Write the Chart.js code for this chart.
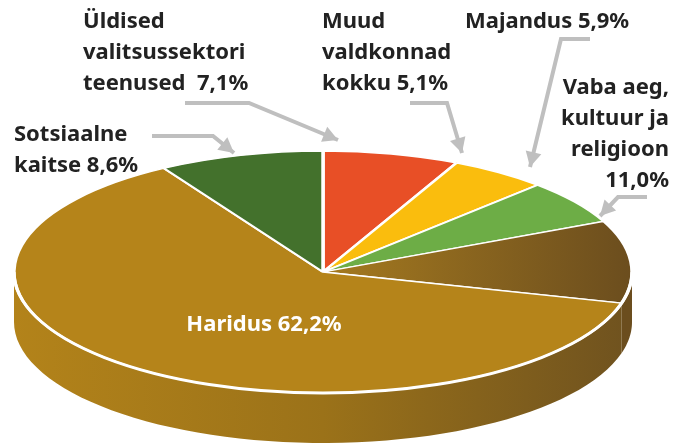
<!DOCTYPE html>
<html lang="et">
<head>
<meta charset="UTF-8">
<title>Kulud valdkonniti</title>
<script src="https://cdn.jsdelivr.net/npm/chart.js"></script>
<style>
  html, body { margin: 0; padding: 0; background: #fff; }
</style>
</head>
<body>
<canvas id="pie" width="673" height="446"></canvas>
<script>
  // slices, clockwise from 12 o'clock
  const categories = [
    'Üldised\nvalitsussektori\nteenused ',
    'Muud\nvaldkonnad\nkokku',
    'Majandus',
    'Vaba aeg,\nkultuur ja\nreligioon\n',
    'Haridus',
    'Sotsiaalne\nkaitse'
  ];
  const shares = [7.1, 5.1, 5.9, 11.0, 62.2, 8.6];
  const colors = ['#E84F26', '#FABD0D', '#6DAD46', null, '#B5841A', '#43712C'];

  // projected ellipse of the top face
  const CX = 323, CY = 272, RX = 309, RY = 121, DEPTH = 50;

  // label spots + leader arrows
  const labelPos = [
    { x: 83,  y: 22,  align: 'left',  arrow: [[185, 103], [249, 103], [338, 140]] },
    { x: 322, y: 22,  align: 'left',  arrow: [[410, 103], [447, 103], [462, 153]] },
    { x: 465, y: 22,  align: 'left',  arrow: [[590, 39], [561, 39], [530, 167]] },
    { x: 669, y: 88,  align: 'right', arrow: [[647, 197], [618, 197], [600, 216]] },
    { x: 264, y: 325, align: 'center', color: '#fff' },
    { x: 14,  y: 135, align: 'left',  arrow: [[152, 136], [213, 136], [234, 153]] }
  ];

  const pct = v => v.toFixed(1).replace('.', ',') + '%';

  function sideFill(ctx, i) {
    if (i === 3) return '#6B4D1E';
    const g = ctx.createLinearGradient(14, 0, 632, 0);
    g.addColorStop(0, '#B3831A');
    g.addColorStop(0.5, '#9B7219');
    g.addColorStop(1, '#6F521F');
    return g;
  }

  function sliceColor(c) {
    if (c.dataIndex !== 3) return colors[c.dataIndex];
    const area = c.chart.chartArea;
    if (!area) return '#8A6520';
    const x = (area.left + area.right) / 2;
    const r = Math.min(area.right - area.left, area.bottom - area.top) / 2;
    const g = c.chart.ctx.createLinearGradient(x, 0, x + r, 0);
    g.addColorStop(0, '#A57A1F');
    g.addColorStop(1, '#6B4D1E');
    return g;
  }

  const tilt = {
    id: 'tilt',
    beforeDatasetsDraw(chart) {
      const ctx = chart.ctx;
      const arcs = chart.getDatasetMeta(0).data;
      arcs.forEach((arc, i) => {
        const s = Math.max(arc.startAngle, 0), e = Math.min(arc.endAngle, Math.PI);
        if (e <= s) return;
        const n = 60;
        ctx.beginPath();
        for (let k = 0; k <= n; k++) {
          const t = s + (e - s) * k / n;
          ctx.lineTo(CX + RX * Math.cos(t), CY + RY * Math.sin(t));
        }
        for (let k = n; k >= 0; k--) {
          const t = s + (e - s) * k / n;
          ctx.lineTo(CX + RX * Math.cos(t), CY + RY * Math.sin(t) + DEPTH);
        }
        ctx.closePath();
        ctx.fillStyle = sideFill(ctx, i);
        ctx.fill();
      });
      const a = arcs[0];
      ctx.save();
      ctx.translate(CX, CY);
      ctx.scale(RX / a.outerRadius, RY / a.outerRadius);
      ctx.translate(-a.x, -a.y);
    },
    afterDatasetsDraw(chart) {
      const ctx = chart.ctx;
      ctx.restore();
      // white rim between top and side
      ctx.save();
      ctx.beginPath();
      ctx.ellipse(CX, CY, RX, RY, 0, 0, Math.PI);
      ctx.strokeStyle = '#fff';
      ctx.lineWidth = 3;
      ctx.stroke();
      ctx.restore();
    },
    afterDraw(chart) {
      const ctx = chart.ctx;
      ctx.save();
      ctx.textBaseline = 'middle';
      categories.forEach((cat, i) => {
        const p = labelPos[i];
        if (p.arrow) {
          ctx.strokeStyle = '#BFBFBF';
          ctx.fillStyle = '#BFBFBF';
          ctx.lineWidth = 4;
          ctx.beginPath();
          p.arrow.forEach(([x, y], k) => k ? ctx.lineTo(x, y) : ctx.moveTo(x, y));
          const [x1, y1] = p.arrow[p.arrow.length - 2];
          const [x2, y2] = p.arrow[p.arrow.length - 1];
          const ang = Math.atan2(y2 - y1, x2 - x1);
          const bx = x2 - 15 * Math.cos(ang), by = y2 - 15 * Math.sin(ang);
          ctx.lineTo(bx, by);
          ctx.stroke();
          ctx.beginPath();
          ctx.moveTo(x2, y2);
          ctx.lineTo(bx + 8 * Math.sin(ang), by - 8 * Math.cos(ang));
          ctx.lineTo(bx - 8 * Math.sin(ang), by + 8 * Math.cos(ang));
          ctx.closePath();
          ctx.fill();
        }
        const lines = (cat + ' ' + pct(shares[i])).split('\n').map(l => l.replace(/^ +| +$/g, ''));
        ctx.font = 'bold 22px "Noto Sans"';
        ctx.fillStyle = p.color || '#222';
        ctx.textAlign = p.align;
        lines.forEach((l, k) => ctx.fillText(l, p.x, p.y + k * 31));
      });
      ctx.restore();
    }
  };

  new Chart(document.getElementById('pie'), {
    type: 'pie',
    data: {
      labels: categories.map(c => c.replace(/\n/g, ' ').trim()),
      datasets: [{
        data: shares,
        backgroundColor: sliceColor,
        borderColor: '#fff',
        borderWidth: 2.5,
        clip: false
      }]
    },
    options: {
      responsive: false,
      animation: false,
      layout: { padding: 0 },
      plugins: { legend: { display: false }, tooltip: { enabled: false } }
    },
    plugins: [tilt]
  });
</script>
</body>
</html>
